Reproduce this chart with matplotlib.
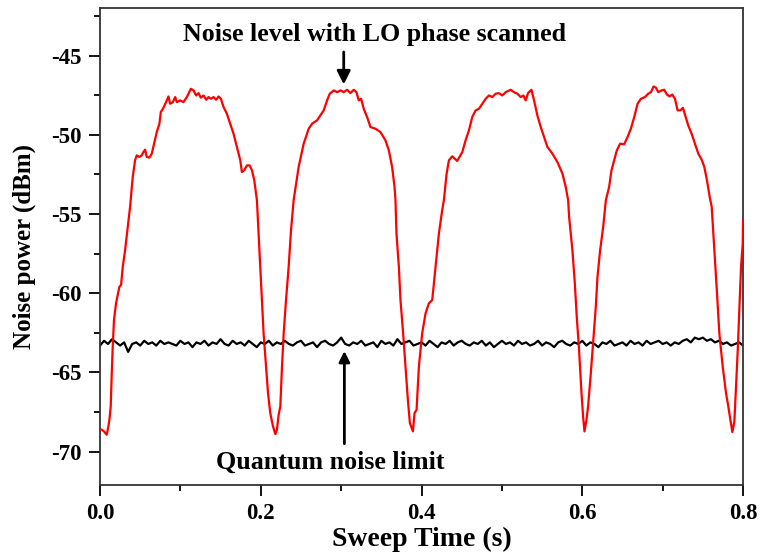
import numpy as np
import matplotlib
matplotlib.use("Agg")
import matplotlib.pyplot as plt
from matplotlib.ticker import MultipleLocator

# ---- data ----
red_x = [0.0000, 0.0021, 0.0050, 0.0083, 0.0104, 0.0117, 0.0133, 0.0146, 0.0158, 0.0174,
         0.0199, 0.0216, 0.0241, 0.0262, 0.0283, 0.0312, 0.0341, 0.0374,
         0.0407, 0.0436, 0.0457, 0.0490, 0.0519, 0.0540, 0.0561, 0.0582, 0.0615, 0.0644,
         0.0673, 0.0706, 0.0739, 0.0756, 0.0789, 0.0831, 0.0851, 0.0872, 0.0906, 0.0935,
         0.0955, 0.0997, 0.1038, 0.1080, 0.1101, 0.1130, 0.1163, 0.1196, 0.1225, 0.1254,
         0.1288, 0.1321, 0.1350, 0.1379, 0.1412, 0.1445, 0.1475, 0.1504, 0.1537, 0.1578,
         0.1620, 0.1661, 0.1703, 0.1745, 0.1765, 0.1794, 0.1828, 0.1861, 0.1890, 0.1919,
         0.1952, 0.1973, 0.1994, 0.2015, 0.2035, 0.2065, 0.2090, 0.2118, 0.2152, 0.2181,
         0.2201, 0.2222, 0.2243, 0.2264, 0.2285, 0.2314, 0.2347, 0.2375,
         0.2409, 0.2471, 0.2534, 0.2596, 0.2638, 0.2700, 0.2741, 0.2783, 0.2825, 0.2858,
         0.2908, 0.2949, 0.2991, 0.3032, 0.3074, 0.3115, 0.3157, 0.3190, 0.3219, 0.3248,
         0.3281, 0.3323, 0.3364, 0.3427, 0.3489, 0.3551, 0.3593, 0.3634, 0.3664, 0.3676,
         0.3688, 0.3718, 0.3738, 0.3771, 0.3801, 0.3830, 0.3855, 0.3893, 0.3913, 0.3938,
         0.3967, 0.4008, 0.4050, 0.4091, 0.4133, 0.4174, 0.4216, 0.4257,
         0.4278, 0.4312, 0.4341, 0.4382, 0.4444, 0.4507, 0.4548, 0.4590, 0.4631, 0.4673,
         0.4714, 0.4756, 0.4798, 0.4839, 0.4881, 0.4922, 0.4964, 0.5005, 0.5047, 0.5109,
         0.5150, 0.5192, 0.5234, 0.5267, 0.5296, 0.5325, 0.5367, 0.5400, 0.5441, 0.5483,
         0.5524, 0.5566, 0.5628, 0.5690, 0.5753, 0.5794, 0.5824,
         0.5836, 0.5877, 0.5907, 0.5931, 0.5960, 0.5990, 0.6010, 0.6027, 0.6052, 0.6072,
         0.6106, 0.6134, 0.6168, 0.6189, 0.6222, 0.6260, 0.6293,
         0.6334, 0.6363, 0.6397, 0.6430, 0.6471, 0.6521, 0.6563, 0.6604, 0.6646, 0.6688,
         0.6729, 0.6779, 0.6820, 0.6854, 0.6887, 0.6916, 0.6945, 0.6986, 0.7019, 0.7053,
         0.7086, 0.7119, 0.7153, 0.7186, 0.7219, 0.7252, 0.7286, 0.7318, 0.7360, 0.7402,
         0.7443, 0.7485, 0.7518, 0.7551, 0.7585,
         0.7610, 0.7643, 0.7676, 0.7705, 0.7747, 0.7788, 0.7817, 0.7842, 0.7867, 0.7892,
         0.7913, 0.7934, 0.7954, 0.7975, 0.7996, 0.8000]
red_y = [-68.60, -68.61, -68.72, -68.93, -68.40, -67.98, -67.15, -65.05, -63.37, -61.69,
         -60.64, -60.22, -59.59, -59.48, -58.33, -57.28, -56.02, -54.55,
         -52.66, -51.61, -51.30, -51.40, -51.30, -51.09, -50.94, -51.40, -51.44, -51.19,
         -50.56, -49.83, -49.30, -48.57, -48.30, -47.83, -47.58, -48.04, -47.94, -47.62,
         -47.94, -47.83, -47.94, -47.62, -47.41, -47.10, -47.20, -47.52, -47.37, -47.66,
         -47.52, -47.79, -47.62, -47.73, -47.62, -47.79, -47.58, -47.73, -48.25, -48.67,
         -49.30, -49.93, -50.77, -51.61, -52.35, -52.24, -51.93, -51.93, -52.24, -52.87,
         -54.13, -56.23, -58.33, -60.43, -62.53, -64.63, -66.30, -67.56, -68.40, -68.89,
         -68.61, -67.67, -67.15, -64.63, -62.53, -60.43, -58.33, -56.10,
         -54.13, -52.03, -50.56, -49.62, -49.30, -49.09, -48.78, -48.46, -47.83, -47.41,
         -47.20, -47.31, -47.20, -47.31, -47.16, -47.37, -47.16, -47.31, -47.83, -47.73,
         -48.36, -48.88, -49.51, -49.62, -49.83, -50.35, -50.98, -52.03, -53.29, -54.13,
         -56.23, -58.33, -60.43, -62.53, -64.63, -66.73, -68.19, -68.72, -67.56, -67.36,
         -64.63, -62.53, -61.27, -60.64, -60.43, -58.33, -56.23, -54.76,
         -54.13, -52.45, -51.61, -51.36, -51.65, -51.09, -50.35, -49.72, -48.88, -48.46,
         -48.36, -48.04, -47.73, -47.52, -47.62, -47.41, -47.37, -47.52, -47.31, -47.16,
         -47.31, -47.41, -47.62, -47.52, -47.83, -47.37, -47.16, -47.83, -48.78, -49.51,
         -50.14, -50.77, -51.19, -51.72, -52.45, -53.29, -54.13,
         -55.18, -57.28, -59.38, -61.48, -63.58, -66.30, -67.77, -68.72, -67.98, -67.15,
         -65.05, -63.16, -60.85, -58.96, -57.28, -55.81, -54.13,
         -53.29, -52.24, -51.61, -50.98, -50.56, -50.60, -50.14, -49.62, -48.88, -48.04,
         -47.73, -47.62, -47.41, -47.31, -46.95, -47.03, -47.31, -47.20, -47.16, -47.46,
         -47.58, -47.46, -47.73, -48.46, -48.46, -48.30, -48.88, -49.41, -49.93, -50.56,
         -51.19, -51.57, -52.03, -52.87, -53.92,
         -54.55, -57.28, -60.01, -62.53, -64.63, -66.30, -67.15, -67.98, -68.76, -68.09,
         -65.89, -63.58, -61.06, -58.33, -56.86, -55.39]

black_y = [-63.3, -63.0, -63.2, -62.9, -63.1, -63.3, -63.1, -63.7, -63.2, -63.1,
           -63.3, -63.0, -63.2, -63.1, -63.3, -63.0, -63.2, -63.1, -63.2, -63.3,
           -63.0, -63.2, -63.1, -63.4, -63.1, -63.2, -63.0, -63.3, -63.1, -63.2,
           -62.9, -63.2, -63.3, -63.0, -63.2, -63.1, -63.3, -63.0, -63.2, -63.4,
           -63.1, -63.2, -63.0, -63.3, -63.1, -63.2, -63.0, -63.2, -63.3, -63.1,
           -63.0, -63.3, -63.2, -63.1, -63.4, -63.1, -63.0, -63.2, -63.3, -63.1,
           -62.8, -63.2, -63.3, -63.1, -63.2, -63.0, -63.3, -63.2, -63.1, -63.4,
           -63.0, -63.2, -63.1, -63.3, -62.9, -63.2, -63.1, -63.0, -63.3, -63.2,
           -63.1, -63.3, -63.0, -63.2, -63.4, -63.1, -63.2, -63.0, -63.3, -63.1,
           -63.0, -63.2, -63.3, -63.1, -63.2, -63.0, -63.3, -63.1, -63.4, -63.2,
           -63.0, -63.2, -63.1, -63.3, -63.0, -63.2, -63.1, -63.3, -63.2, -63.0,
           -63.3, -63.1, -63.2, -63.4, -63.1, -63.0, -63.2, -63.3, -63.1, -63.2,
           -63.0, -63.3, -63.1, -63.2, -63.4, -63.1, -63.2, -63.0, -63.3, -63.2,
           -63.1, -63.3, -63.0, -63.2, -63.1, -63.3, -63.0, -63.2, -63.1, -63.0,
           -63.2, -63.1, -63.3, -63.1, -63.2, -63.0, -62.9, -63.1, -62.8, -62.9,
           -62.8, -63.0, -62.9, -63.1, -63.0, -63.2, -63.1, -63.3, -63.2, -63.1, -63.3]
black_x = list(np.linspace(0.0, 0.8, len(black_y)))

x_ticks = [0.0, 0.2, 0.4, 0.6, 0.8]
x_tick_labels = ["0.0", "0.2", "0.4", "0.6", "0.8"]
y_ticks = [-70, -65, -60, -55, -50, -45]
y_tick_labels = ["-70", "-65", "-60", "-55", "-50", "-45"]

plt.rcParams['font.family'] = ['Liberation Serif', 'DejaVu Serif']
plt.rcParams['font.weight'] = 'bold'
plt.rcParams['axes.unicode_minus'] = False

fig = plt.figure(figsize=(7.6, 5.56), dpi=100)
ax = fig.add_axes([0.1316, 0.1277, 0.8461, 0.8579])

ax.plot(black_x, black_y, color='black', lw=1.6, zorder=2)
ax.plot(red_x, red_y, color='#ff0000', lw=1.6, zorder=3)

ax.set_xlim(0.0, 0.8)
ax.set_ylim(-72.1, -42.0)
ax.set_xticks(x_ticks)
ax.set_xticklabels(x_tick_labels)
ax.set_yticks(y_ticks)
ax.set_yticklabels(y_tick_labels)
ax.xaxis.set_minor_locator(MultipleLocator(0.1))
ax.yaxis.set_minor_locator(MultipleLocator(2.5))
ax.tick_params(which='major', direction='out', length=8, width=1.3, labelsize=16.5,
               colors='black', pad=5)
ax.tick_params(which='minor', direction='out', length=4.5, width=1.3)
ax.tick_params(top=False, right=False)
for s in ax.spines.values():
    s.set_linewidth(1.3)
    s.set_color('#333333')
for lab in ax.get_xticklabels() + ax.get_yticklabels():
    lab.set_fontweight('bold')

ax.set_xlabel("Sweep Time (s)", fontsize=20, fontweight='bold', labelpad=2)
ax.set_ylabel("Noise power (dBm)", fontsize=18, fontweight='bold', labelpad=11)

ax.annotate("", xy=(0.3032, -47.0), xytext=(0.3032, -44.6),
            arrowprops=dict(arrowstyle='-|>', color='black', lw=2.0, mutation_scale=20))
ax.text(0.342, -44.06, "Noise level with LO phase scanned", ha='center', va='baseline',
        fontsize=18.7, fontweight='bold')
ax.annotate("", xy=(0.304, -63.47), xytext=(0.304, -69.67),
            arrowprops=dict(arrowstyle='-|>', color='black', lw=2.0, mutation_scale=16))
ax.text(0.2866, -71.09, "Quantum noise limit", ha='center', va='baseline',
        fontsize=18.7, fontweight='bold')

fig.savefig("out.png", dpi=100)
